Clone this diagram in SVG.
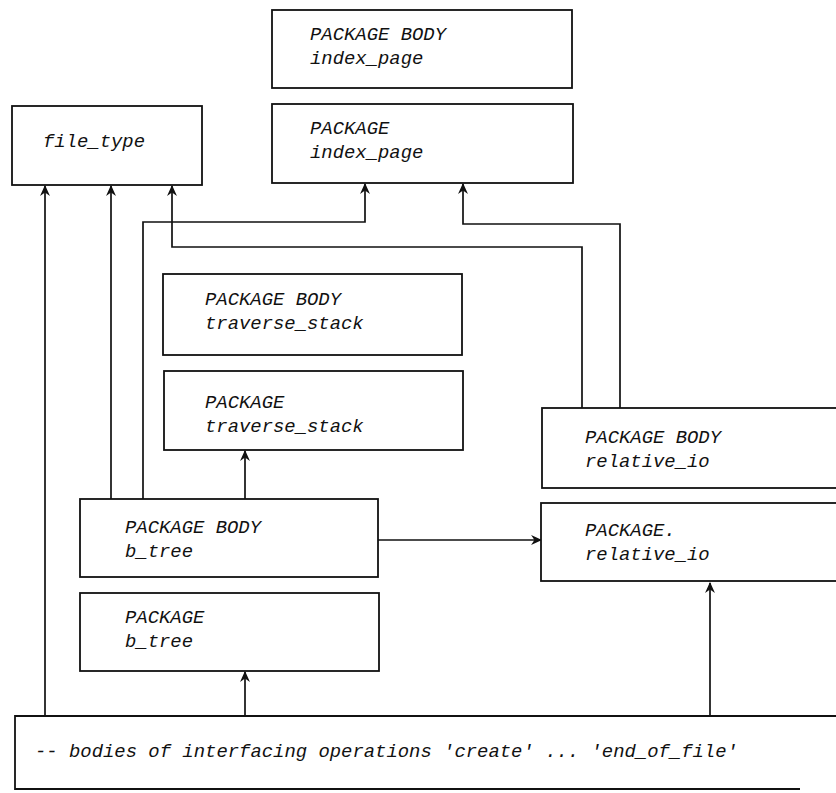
<svg xmlns="http://www.w3.org/2000/svg" width="836" height="793" viewBox="0 0 836 793">
<style>
.box{fill:#fff;stroke:#111;stroke-width:1.8}
.t{font-family:"Liberation Mono","Courier New",monospace;font-style:italic;font-size:18.9px;fill:#111}
.c{fill:none;stroke:#111;stroke-width:1.7}
</style>
<defs>
<marker id="ah" viewBox="0 0 10 10" refX="9" refY="5" markerWidth="11" markerHeight="11" markerUnits="userSpaceOnUse" orient="auto">
<path d="M0,0.5 L10,5 L0,9.5 L3,5 z" fill="#111"/>
</marker>
</defs>
<rect width="836" height="793" fill="#fff"/>

<g id="connectors">
<path class="c" d="M45,716 V186" marker-end="url(#ah)"/>
<path class="c" d="M111,499 V186" marker-end="url(#ah)"/>
<path class="c" d="M143,499 V222 H365 V184" marker-end="url(#ah)"/>
<path class="c" d="M582,408 V247 H172 V186" marker-end="url(#ah)"/>
<path class="c" d="M620,408 V224 H463 V184" marker-end="url(#ah)"/>
<path class="c" d="M245,499 V451" marker-end="url(#ah)"/>
<path class="c" d="M245,716 V672" marker-end="url(#ah)"/>
<path class="c" d="M378,540 H541" marker-end="url(#ah)"/>
<path class="c" d="M710,717 V583" marker-end="url(#ah)"/>
</g>

<g id="index_page_body">
<rect class="box" x="272" y="10" width="300" height="78"/>
<text class="t" x="310" y="40">PACKAGE BODY</text>
<text class="t" x="310" y="64">index_page</text>
</g>

<g id="index_page_pkg">
<rect class="box" x="272" y="104" width="301" height="79"/>
<text class="t" x="310" y="134">PACKAGE</text>
<text class="t" x="310" y="158">index_page</text>
</g>

<g id="file_type">
<rect class="box" x="12" y="106" width="190" height="79"/>
<text class="t" x="43" y="147">file_type</text>
</g>

<g id="traverse_stack_body">
<rect class="box" x="163" y="274" width="299" height="81"/>
<text class="t" x="205" y="305">PACKAGE BODY</text>
<text class="t" x="205" y="329">traverse_stack</text>
</g>

<g id="traverse_stack_pkg">
<rect class="box" x="164" y="371" width="299" height="79"/>
<text class="t" x="205" y="408">PACKAGE</text>
<text class="t" x="205" y="432">traverse_stack</text>
</g>

<g id="relative_io_body">
<rect class="box" x="542" y="408" width="310" height="80"/>
<text class="t" x="585" y="443">PACKAGE BODY</text>
<text class="t" x="585" y="467">relative_io</text>
</g>

<g id="relative_io_pkg">
<rect class="box" x="541" y="503" width="311" height="78"/>
<text class="t" x="585" y="536">PACKAGE.</text>
<text class="t" x="585" y="560">relative_io</text>
</g>

<g id="b_tree_body">
<rect class="box" x="80" y="499" width="298" height="78"/>
<text class="t" x="125" y="533">PACKAGE BODY</text>
<text class="t" x="125" y="557">b_tree</text>
</g>

<g id="b_tree_pkg">
<rect class="box" x="80" y="593" width="299" height="78"/>
<text class="t" x="125" y="623">PACKAGE</text>
<text class="t" x="125" y="647">b_tree</text>
</g>

<g id="bodies">
<path class="box" d="M840,716 H15 V789 H800" fill="#fff"/>
<text class="t" x="35" y="757">-- bodies of interfacing operations 'create' ... 'end_of_file'</text>
</g>
</svg>
